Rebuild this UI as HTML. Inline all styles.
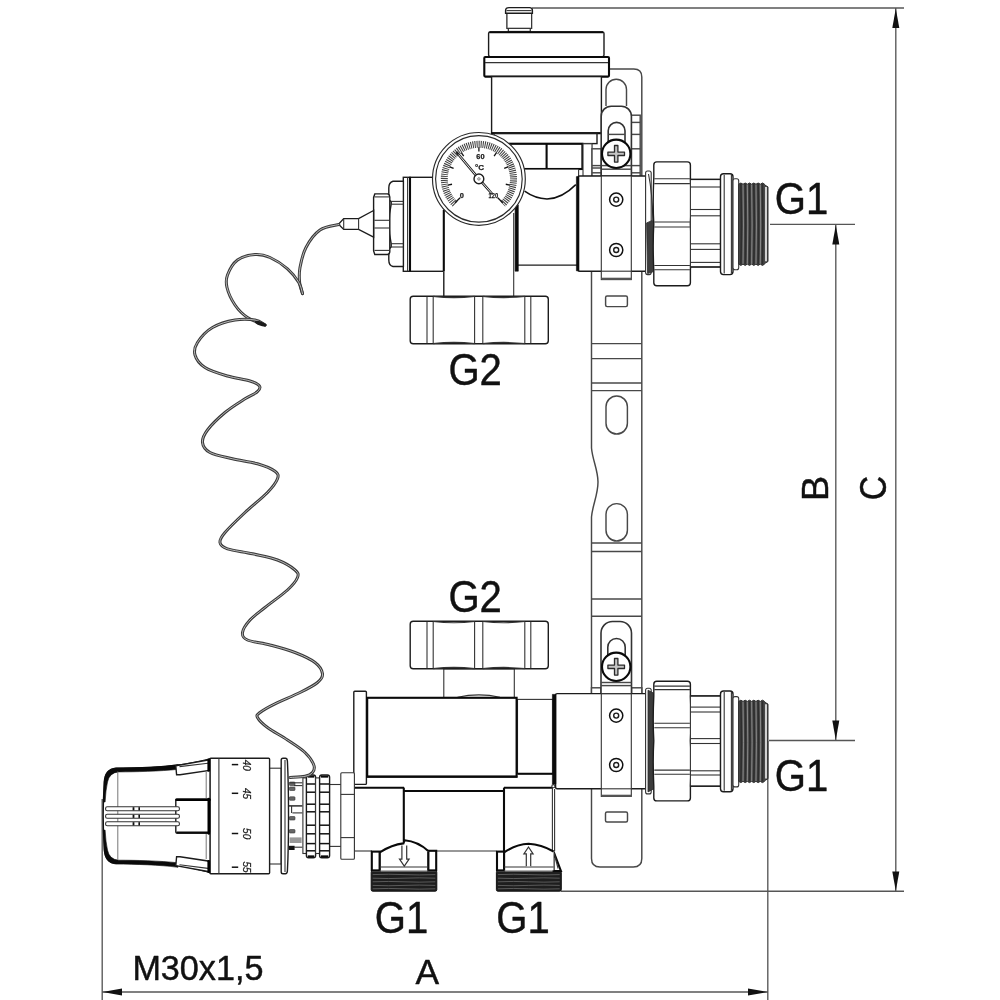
<!DOCTYPE html>
<html lang="en">
<head>
<meta charset="utf-8">
<title>Mixing unit dimensional drawing</title>
<style>
html,body{margin:0;padding:0;background:#fff;}
body{width:1000px;height:1000px;overflow:hidden;}
svg{display:block;}
.t{fill:none;stroke:#333;stroke-width:1.1;}
.r{fill:none;stroke:#484848;stroke-width:1.45;}
.c{fill:none;stroke:#333;stroke-width:1.6;}
.gk{fill:none;stroke:#555;stroke-width:2.2;}
.kn{fill:#fff;stroke:#1a1a1a;stroke-width:1.2;}
.blk{fill:#0a0a0a;stroke:#0a0a0a;stroke-width:0.6;stroke-linejoin:round;}
.m{fill:none;stroke:#1c1c1c;stroke-width:1.4;}
.k{fill:none;stroke:#0a0a0a;stroke-width:2.1;}
.kk{fill:none;stroke:#000;stroke-width:2.6;stroke-linecap:round;}
.g{fill:none;stroke:#777;stroke-width:1;}
.d{fill:none;stroke:#565656;stroke-width:1.35;}
.ah{fill:#111;stroke:none;}
.thr{fill:#3c3c3c;stroke:#2a2a2a;stroke-width:0.8;}
.thr2{fill:#777;stroke:none;}
.thrf{fill:#474747;stroke:#2e2e2e;stroke-width:1;}
.thl{fill:none;stroke:#909090;stroke-width:0.9;}
.thl2{fill:none;stroke:#fff;stroke-width:1.5;}
.thrb{fill:#1e1e1e;stroke:#111;stroke-width:1;}
.thlb{fill:none;stroke:#6a6a6a;stroke-width:0.8;}
.ring{fill:none;stroke:#404040;stroke-width:7;stroke-dasharray:1.05 0.95;}
.gtw{paint-order:stroke;stroke:#fff;stroke-width:1.2;}
.gr{fill:none;stroke:#2a2a2a;stroke-width:1.15;}
.k2{fill:none;stroke:#111;stroke-width:1.5;}
.thd{fill:none;stroke:#2e2e2e;stroke-width:1.6;}
.tickb{stroke:#111;stroke-width:1.3;}
.needle{fill:none;stroke:#222;stroke-width:2.6;}
.needlei{fill:none;stroke:#fff;stroke-width:0.9;}
.pin{fill:#666;stroke:#333;stroke-width:0.6;}
.pinb{fill:#111;stroke:none;}
.ping{fill:#999;stroke:none;}
.wire{fill:none;stroke:#3a3a3a;stroke-width:3;stroke-linecap:round;}
.wirei{fill:none;stroke:#e4e4e4;stroke-width:0.75;stroke-linecap:round;}
text{font-family:"Liberation Sans",sans-serif;fill:#111;}
.lbl{stroke:#111;stroke-width:0.45;stroke-linejoin:round;}
.gt{font-weight:bold;fill:#1a1a1a;stroke:#1a1a1a;stroke-width:0.25;}
.w{fill:#fff;}
.dt{fill:#1a1a1a;stroke:#1a1a1a;stroke-width:0.25;font-style:italic;}
</style>
</head>
<body>
<svg width="1000" height="1000" viewBox="0 0 1000 1000" style="filter:grayscale(1)">
<rect x="0" y="0" width="1000" height="1000" fill="#fff"/>
<g class="dim">
<line class="d" x1="532.00" y1="8.00" x2="904.00" y2="8.00" />
<line class="d" x1="895.80" y1="8.00" x2="895.80" y2="891.20" />
<line class="d" x1="561.00" y1="891.20" x2="904.00" y2="891.20" />
<line class="d" x1="770.00" y1="224.30" x2="855.00" y2="224.30" />
<line class="d" x1="769.00" y1="740.50" x2="855.00" y2="740.50" />
<line class="d" x1="835.80" y1="225.00" x2="835.80" y2="740.00" />
<line class="d" x1="767.80" y1="741.00" x2="767.80" y2="1000.00" />
<line class="d" x1="102.20" y1="799.00" x2="102.20" y2="1000.00" />
<line class="d" x1="102.00" y1="992.00" x2="768.00" y2="992.00" />
<polygon class="ah" points="895.8,8.5 899.3,28.0 892.3,28.0"/>
<polygon class="ah" points="895.8,891.0 892.3,871.5 899.3,871.5"/>
<polygon class="ah" points="835.8,225.0 839.3,244.5 832.3,244.5"/>
<polygon class="ah" points="835.8,740.0 832.3,720.5 839.3,720.5"/>
<polygon class="ah" points="102.5,992.0 122.0,988.5 122.0,995.5"/>
<polygon class="ah" points="767.5,992.0 748.0,995.5 748.0,988.5"/>
</g>
<path class="r w" d="M591.5,69 H633.8 Q641.8,69 641.8,77 V858.4 Q641.8,866.9 633.3,866.9 H600.0 Q591.5,866.9 591.5,858.4 V517 C592.5,505 598.0,495 598.0,482 C598.0,470 592.5,460 591.5,448 Z" />
<path class="r" d="M606,106 V89.5 A10,10 0 0 1 626.5,89.5 V106" />
<rect class="r" x="605.60" y="296.00" width="21.80" height="10.60" rx="1.5" />
<line class="r" x1="591.50" y1="343.60" x2="641.80" y2="343.60" />
<line class="r" x1="591.50" y1="358.60" x2="641.80" y2="358.60" />
<line class="r" x1="591.50" y1="383.00" x2="641.80" y2="383.00" />
<line class="r" x1="591.50" y1="390.60" x2="641.80" y2="390.60" />
<line class="r" x1="591.50" y1="543.00" x2="641.80" y2="543.00" />
<line class="r" x1="591.50" y1="551.40" x2="641.80" y2="551.40" />
<line class="r" x1="591.50" y1="599.00" x2="641.80" y2="599.00" />
<line class="r" x1="591.50" y1="616.30" x2="641.80" y2="616.30" />
<rect class="r w" x="606.00" y="396.00" width="21.40" height="38.00" rx="10.7" />
<rect class="r w" x="606.00" y="503.60" width="21.40" height="37.40" rx="10.7" />
<rect class="r" x="605.50" y="812.00" width="22.00" height="10.00" rx="1.5" />
<path class="t w" d="M508.4,31.4 V28.4 H507 V13 M531.6,13 V28.4 H530.2 V31.4" />
<rect class="t w" x="507.00" y="12.00" width="24.60" height="16.40" />
<rect class="t w" x="508.40" y="28.40" width="21.80" height="3.00" />
<path class="m w" d="M505.6,13.2 V10.5 Q505.6,7.6 509,7.6 H529.6 Q532.4,7.6 532.4,10.5 V13.2 Z" />
<line class="t" x1="506.50" y1="10.60" x2="531.50" y2="10.60" />
<rect class="m w" x="488.60" y="32.00" width="115.40" height="24.60" rx="1.5" />
<line class="k" x1="489.50" y1="32.20" x2="603.00" y2="32.20" />
<rect class="k w" x="484.30" y="57.00" width="124.70" height="19.60" rx="1" />
<line class="t" x1="485.00" y1="62.60" x2="608.00" y2="62.60" />
<rect class="m w" x="491.60" y="76.60" width="109.80" height="56.40" />
<line class="k" x1="491.00" y1="133.30" x2="601.60" y2="133.30" />
<rect class="m w" x="494.00" y="133.60" width="103.00" height="10.00" />
<rect class="k w" x="510.00" y="143.80" width="72.40" height="25.20" />
<line class="k" x1="546.60" y1="143.80" x2="546.60" y2="169.00" />
<rect class="w" x="516.00" y="169.60" width="63.00" height="95.40" style="stroke:none"/>
<line class="m" x1="518.00" y1="265.10" x2="577.00" y2="265.10" />
<line class="t" x1="578.60" y1="169.00" x2="578.60" y2="177.00" />
<path class="k2" d="M524.6,191.2 Q535,198.6 547,199 Q562,198.6 575.8,184.6" />
<rect class="m w" x="410.00" y="177.30" width="34.00" height="94.00" />
<rect class="m w" x="403.30" y="177.30" width="6.70" height="94.00" />
<line class="t" x1="407.60" y1="177.30" x2="407.60" y2="271.30" />
<line class="k" x1="410.00" y1="177.30" x2="410.00" y2="271.30" />
<path class="m w" d="M403.4,181.3 H393 Q388.8,182.4 388.8,188 V197 Q389,200.6 391.2,201.6 V204.2 Q389,214 389,224 Q389,234 391.2,243.6 V246.8 Q388.8,248 388.8,252 V260 Q388.8,265.6 393,266.5 H403.4 Z" />
<line class="t" x1="391.20" y1="201.40" x2="403.30" y2="201.40" />
<line class="t" x1="391.20" y1="204.20" x2="403.30" y2="204.20" />
<line class="t" x1="391.20" y1="243.70" x2="403.30" y2="243.70" />
<line class="t" x1="391.20" y1="247.00" x2="403.30" y2="247.00" />
<path class="m w" d="M374.8,193.9 H387.6 Q389.8,194.6 389.8,197 V251.4 Q389.8,253.9 387.6,254.5 H374.8 L373.6,251 V197.4 Z" />
<line class="t" x1="374.40" y1="196.90" x2="389.40" y2="196.90" />
<line class="t" x1="374.40" y1="220.30" x2="389.40" y2="220.30" />
<line class="t" x1="374.40" y1="228.00" x2="389.40" y2="228.00" />
<line class="t" x1="374.40" y1="250.40" x2="389.40" y2="250.40" />
<path class="m w" d="M373.6,210.5 L358.6,218.6 H343.7 L338.5,224.2 L343.7,229.4 H358.6 L373.6,237.2 Z" />
<line class="t" x1="358.60" y1="218.60" x2="358.60" y2="229.40" />
<line class="t" x1="343.70" y1="218.60" x2="343.70" y2="229.40" />
<rect class="t w" x="443.60" y="200.00" width="71.80" height="96.00" style="stroke:none"/>
<line class="k" x1="443.80" y1="210.00" x2="443.80" y2="271.40" />
<line class="m" x1="443.80" y1="271.40" x2="443.80" y2="296.00" />
<line class="t" x1="513.70" y1="213.00" x2="513.70" y2="296.00" />
<rect class="blk" x="515.10" y="205.00" width="3.20" height="66.20" />
<rect class="m w" x="410.20" y="296.20" width="138.10" height="47.60" rx="3" />
<line class="t" x1="427.00" y1="296.70" x2="427.00" y2="343.30" />
<line class="t" x1="433.20" y1="296.70" x2="433.20" y2="343.30" />
<line class="t" x1="474.60" y1="296.70" x2="474.60" y2="343.30" />
<line class="t" x1="482.80" y1="296.70" x2="482.80" y2="343.30" />
<line class="t" x1="524.80" y1="296.70" x2="524.80" y2="343.30" />
<line class="t" x1="530.80" y1="296.70" x2="530.80" y2="343.30" />
<path class="t" d="M433.2,296.4 Q453.9,298.8 474.6,296.4" />
<path class="t" d="M433.2,343.6 Q453.9,341.2 474.6,343.6" />
<path class="t" d="M482.8,296.4 Q503.79999999999995,298.8 524.8,296.4" />
<path class="t" d="M482.8,343.6 Q503.79999999999995,341.2 524.8,343.6" />
<rect class="r w" x="631.30" y="115.20" width="8.90" height="61.20" />
<line class="r" x1="631.30" y1="122.40" x2="640.20" y2="122.40" />
<line class="r" x1="631.30" y1="134.40" x2="640.20" y2="134.40" />
<line class="r" x1="631.30" y1="148.80" x2="640.20" y2="148.80" />
<line class="r" x1="631.30" y1="165.60" x2="640.20" y2="165.60" />
<line class="r" x1="631.30" y1="172.80" x2="640.20" y2="172.80" />
<rect class="t w" x="583.00" y="143.80" width="9.00" height="32.60" />
<rect class="r w" x="592.00" y="148.80" width="9.30" height="27.60" />
<line class="r" x1="592.00" y1="165.60" x2="601.30" y2="165.60" />
<line class="r" x1="592.00" y1="168.00" x2="601.30" y2="168.00" />
<line class="r" x1="592.00" y1="172.80" x2="601.30" y2="172.80" />
<path class="c w" d="M601.2,176.4 V116.2 A10,10 0 0 1 611.2,106.2 H621.4 A10,10 0 0 1 631.4,116.2 V176.4 Z" />
<path class="c" d="M608.2,150 V130.8 A8.4,8.4 0 0 1 625,130.8 V150" />
<line class="r" x1="608.20" y1="134.40" x2="625.00" y2="134.40" />
<line class="r" x1="601.50" y1="165.60" x2="631.40" y2="165.60" />
<line class="r" x1="601.50" y1="169.20" x2="631.40" y2="169.20" />
<rect class="m w" x="578.00" y="176.00" width="68.20" height="95.20" rx="1.5" />
<rect class="blk" x="576.40" y="176.60" width="2.60" height="94.20" />
<rect class="t w" x="601.30" y="176.00" width="30.00" height="103.60" />
<line class="gk" x1="601.60" y1="278.80" x2="631.00" y2="278.80" />
<line class="t" x1="601.30" y1="271.20" x2="631.30" y2="271.20" />
<circle class="k2 w" cx="616.20" cy="199.60" r="6.60" />
<circle class="m" cx="616.20" cy="199.60" r="2.50" />
<circle class="k2 w" cx="616.20" cy="250.00" r="6.60" />
<circle class="m" cx="616.20" cy="250.00" r="2.50" />
<circle class="k w" cx="616.20" cy="153.80" r="14.20" />
<path d="M614.5,145.5 h3.4 v6.6 h6.6 v3.4 h-6.6 v6.6 h-3.4 v-6.6 h-6.6 v-3.4 h6.6 Z" style="fill:#c4c4c4;stroke:#2a2a2a;stroke-width:1.3;stroke-linejoin:round"/>
<rect class="t w" x="645.60" y="171.00" width="5.60" height="103.60" rx="2" />
<path class="thr" d="M646.6,222.9 L653.6,219.9 V271.6 L647.6,273.6 Z" />
<path class="t" d="M648.5,174.0 Q652.5,193.9 652.8,219.9" />
<path class="m w" d="M656.8,161.9 H687.4 Q690.4,161.9 690.4,164.9 V176.9 Q691.6,203.9 690.4,223.9 Q691.6,243.9 690.4,270.8 V282.8 Q690.4,285.8 687.4,285.8 H656.8 Q653.8,285.8 653.8,282.8 V270.8 Q652.5999999999999,243.9 653.8,223.9 Q652.5999999999999,203.9 653.8,176.9 V164.9 Q653.8,161.9 656.8,161.9 Z" />
<line class="t" x1="654.30" y1="178.70" x2="689.90" y2="178.70" />
<line class="t" x1="654.30" y1="183.60" x2="689.90" y2="183.60" />
<line class="t" x1="654.30" y1="222.00" x2="689.90" y2="222.00" />
<line class="t" x1="654.30" y1="227.00" x2="689.90" y2="227.00" />
<line class="t" x1="654.30" y1="265.50" x2="689.90" y2="265.50" />
<line class="t" x1="654.30" y1="269.70" x2="689.90" y2="269.70" />
<rect class="t w" x="690.40" y="179.40" width="30.10" height="87.60" />
<line class="t" x1="690.40" y1="187.00" x2="720.50" y2="187.00" />
<line class="t" x1="690.40" y1="209.50" x2="720.50" y2="209.50" />
<line class="t" x1="690.40" y1="215.80" x2="720.50" y2="215.80" />
<line class="t" x1="690.40" y1="243.80" x2="720.50" y2="243.80" />
<line class="t" x1="690.40" y1="249.40" x2="720.50" y2="249.40" />
<line class="t" x1="690.40" y1="262.40" x2="720.50" y2="262.40" />
<line class="m" x1="690.40" y1="179.40" x2="720.50" y2="179.40" />
<line class="m" x1="690.40" y1="267.00" x2="720.50" y2="267.00" />
<rect class="m w" x="720.50" y="173.80" width="12.50" height="100.80" rx="3" />
<line class="t" x1="724.20" y1="174.80" x2="724.20" y2="273.60" />
<line class="t" x1="731.40" y1="174.80" x2="731.40" y2="273.60" />
<rect class="t w" x="733.00" y="178.70" width="5.70" height="91.00" rx="2" />
<path class="thrf" d="M738.7,184.3 q2.16,-2.6 4.32,0 q2.16,-2.6 4.32,0 q2.16,-2.6 4.32,0 q2.16,-2.6 4.32,0 q2.16,-2.6 4.32,0 q2.16,-2.6 4.32,0 L764.6,184.9 L768,186.9 V261.5 L764.6,263.5 L764.60,264.1 q-2.16,2.6 -4.32,0 q-2.16,2.6 -4.32,0 q-2.16,2.6 -4.32,0 q-2.16,2.6 -4.32,0 q-2.16,2.6 -4.32,0 q-2.16,2.6 -4.32,0 Z" />
<path class="thl" d="M743.02,184.5 q0.9,41.3 0,79.4" />
<path class="thl" d="M747.33,184.5 q0.9,41.3 0,79.4" />
<path class="thl" d="M751.65,184.5 q0.9,41.3 0,79.4" />
<path class="thl" d="M755.97,184.5 q0.9,41.3 0,79.4" />
<path class="thl" d="M760.28,184.5 q0.9,41.3 0,79.4" />
<path class="thd" d="M740.86,184.1 q0.9,41.3 0,80.2" />
<path class="thd" d="M745.18,184.1 q0.9,41.3 0,80.2" />
<path class="thd" d="M749.49,184.1 q0.9,41.3 0,80.2" />
<path class="thd" d="M753.81,184.1 q0.9,41.3 0,80.2" />
<path class="thd" d="M758.12,184.1 q0.9,41.3 0,80.2" />
<path class="thd" d="M762.44,184.1 q0.9,41.3 0,80.2" />
<path class="thl2" d="M766,187.1 V261.3" />
<circle class="gr w" cx="478.90" cy="178.90" r="46.40" />
<circle class="gr" cx="478.90" cy="178.90" r="43.30" />
<path class="ring" d="M455.08,204.00 A34.6,34.6 0 1 1 502.72,204.00"/>
<line class="tickb" x1="455.00" y1="202.80" x2="460.09" y2="197.71"/>
<line class="tickb" x1="447.91" y1="185.06" x2="452.03" y2="184.25"/>
<line class="tickb" x1="449.71" y1="166.81" x2="453.59" y2="168.41"/>
<line class="tickb" x1="461.34" y1="152.63" x2="463.68" y2="156.12"/>
<line class="tickb" x1="478.90" y1="147.30" x2="478.90" y2="151.50"/>
<line class="tickb" x1="496.46" y1="152.63" x2="494.12" y2="156.12"/>
<line class="tickb" x1="508.09" y1="166.81" x2="504.21" y2="168.41"/>
<line class="tickb" x1="509.89" y1="185.06" x2="505.77" y2="184.25"/>
<line class="tickb" x1="502.80" y1="202.80" x2="497.71" y2="197.71"/>
<path class="needle" d="M456.4,152 L478.9,178.9 L492.2,194" />
<path class="needlei" d="M458.6,154.6 L478.9,178.9 L491.6,193.2" />
<circle class="m w" cx="478.90" cy="178.90" r="4.90" />
<circle class="g" cx="478.90" cy="178.90" r="1.20" />
<text class="gt" x="480.40" y="158.60" font-size="7.4" text-anchor="middle">60</text>
<text class="gt" x="479.60" y="169.80" font-size="8" text-anchor="middle">°C</text>
<text class="gt" x="461.90" y="198.00" font-size="7.4" text-anchor="middle">0</text>
<text class="gt gtw" x="493.40" y="198.40" font-size="7.4" text-anchor="middle" textLength="9.6" lengthAdjust="spacingAndGlyphs">120</text>
<rect class="t w" x="443.80" y="668.80" width="70.50" height="28.70" />
<path class="t" d="M457.5,697.2 Q479,692.6 500,697.2" />
<rect class="m w" x="410.20" y="621.30" width="138.10" height="47.50" rx="3" />
<line class="t" x1="427.00" y1="621.80" x2="427.00" y2="668.30" />
<line class="t" x1="433.20" y1="621.80" x2="433.20" y2="668.30" />
<line class="t" x1="474.60" y1="621.80" x2="474.60" y2="668.30" />
<line class="t" x1="482.80" y1="621.80" x2="482.80" y2="668.30" />
<line class="t" x1="524.80" y1="621.80" x2="524.80" y2="668.30" />
<line class="t" x1="530.80" y1="621.80" x2="530.80" y2="668.30" />
<path class="t" d="M433.2,621.5 Q453.9,623.9 474.6,621.5" />
<path class="t" d="M433.2,668.5999999999999 Q453.9,666.1999999999999 474.6,668.5999999999999" />
<path class="t" d="M482.8,621.5 Q503.79999999999995,623.9 524.8,621.5" />
<path class="t" d="M482.8,668.5999999999999 Q503.79999999999995,666.1999999999999 524.8,668.5999999999999" />
<rect class="t w" x="517.50" y="699.40" width="35.50" height="74.40" />
<line class="k" x1="517.50" y1="773.80" x2="553.00" y2="773.80" />
<rect class="m w" x="353.80" y="691.30" width="12.60" height="93.10" rx="1" />
<rect class="w" x="354.40" y="787.60" width="198.20" height="63.40" style="stroke:none"/>
<line class="t" x1="354.40" y1="787.60" x2="354.40" y2="851.00" />
<line class="t" x1="354.40" y1="851.00" x2="372.00" y2="851.00" />
<line class="t" x1="436.60" y1="851.00" x2="496.40" y2="851.00" />
<rect class="k w" x="367.20" y="697.80" width="149.40" height="78.80" />
<line class="k" x1="366.40" y1="776.80" x2="517.40" y2="776.80" />
<line class="k" x1="353.80" y1="787.80" x2="404.00" y2="787.80" />
<line class="k" x1="404.00" y1="791.00" x2="504.00" y2="791.00" />
<line class="k" x1="504.00" y1="787.80" x2="553.00" y2="787.80" />
<line class="k" x1="403.80" y1="787.60" x2="403.80" y2="841.60" />
<line class="k" x1="504.00" y1="787.60" x2="504.00" y2="851.00" />
<line class="t" x1="552.40" y1="786.00" x2="552.40" y2="851.00" />
<line class="t" x1="554.60" y1="789.00" x2="554.60" y2="851.00" />
<circle class="t w" cx="553.40" cy="786.20" r="1.60" />
<rect class="t w" x="340.80" y="772.80" width="13.60" height="86.40" rx="1" />
<line class="t" x1="340.80" y1="794.40" x2="354.40" y2="794.40" />
<line class="t" x1="340.80" y1="837.60" x2="354.40" y2="837.60" />
<line class="t" x1="329.60" y1="784.50" x2="340.80" y2="784.50" />
<line class="t" x1="329.60" y1="846.40" x2="340.80" y2="846.40" />
<rect class="thrb" x="371.20" y="871.00" width="65.60" height="20.20" rx="1.5" />
<path class="thlb" d="M372.7,874.6 q16.4,-0.7 31.3,0 t31.3,0" />
<path class="thlb" d="M372.7,878.2 q16.4,0.7 31.3,0 t31.3,0" />
<path class="thlb" d="M372.7,881.8 q16.4,-0.7 31.3,0 t31.3,0" />
<path class="thlb" d="M372.7,885.4 q16.4,0.7 31.3,0 t31.3,0" />
<path class="thlb" d="M372.7,888.8 q16.4,-0.7 31.3,0 t31.3,0" />
<rect class="ping" x="372.20" y="869.40" width="63.60" height="2.20" />
<rect class="k w" x="371.80" y="851.60" width="8.00" height="18.80" />
<rect class="k w" x="428.20" y="850.80" width="8.00" height="19.60" />
<path class="w" d="M379.8,870.2 V852.4 Q392,844.6 403.4,843.4 L404.6,840.2 Q418,841.4 428.2,851 V870.2 Z" />
<path class="k" d="M379.8,852.4 Q392,844.6 403.4,843.4 L404.6,840.2 Q418,841.4 428.2,851" />
<line class="k" x1="379.80" y1="852.00" x2="379.80" y2="870.20" />
<line class="k" x1="428.20" y1="851.40" x2="428.20" y2="870.20" />
<line class="t" x1="379.80" y1="867.00" x2="428.20" y2="867.00" />
<rect class="thrb" x="496.40" y="871.00" width="64.90" height="20.20" rx="1.5" />
<path class="thlb" d="M497.9,874.6 q16.2,-0.7 30.9,0 t30.9,0" />
<path class="thlb" d="M497.9,878.2 q16.2,0.7 30.9,0 t30.9,0" />
<path class="thlb" d="M497.9,881.8 q16.2,-0.7 30.9,0 t30.9,0" />
<path class="thlb" d="M497.9,885.4 q16.2,0.7 30.9,0 t30.9,0" />
<path class="thlb" d="M497.9,888.8 q16.2,-0.7 30.9,0 t30.9,0" />
<rect class="ping" x="497.40" y="869.40" width="62.90" height="2.20" />
<rect class="k w" x="497.00" y="851.60" width="7.10" height="18.80" />
<path class="k w" d="M553.6,851.5 L560.9,871 H553.6 Z" />
<path class="t" d="M553.6,851.5 L558.1,868.5" />
<path class="w" d="M504.1,870.2 V852.4 Q516,844.4 528.6,843.8 Q541,844.4 553.6,851.5 V870.2 Z" />
<path class="k" d="M504.1,852.4 Q516,844.4 528.6,843.8 Q541,844.4 553.6,851.5" />
<line class="k" x1="504.10" y1="852.00" x2="504.10" y2="870.20" />
<line class="t" x1="504.10" y1="867.00" x2="553.60" y2="867.00" />
<path class="t" d="M401.90000000000003,845.5 V859.2 H399.5 L404.3,866.2 L409.1,859.2 H406.7 V845.5" style="fill:#fff;stroke:#333;stroke-width:1.2"/>
<path class="t" d="M526.3,866.3 V853.8 H523.9 L528.5,847 L533.1,853.8 H530.7 V866.3" style="fill:#fff;stroke:#333;stroke-width:1.2"/>
<rect class="r w" x="591.50" y="687.80" width="9.50" height="6.20" />
<rect class="r w" x="631.50" y="687.80" width="10.30" height="6.20" />
<path class="c w" d="M601,694 V633 A11.5,11.5 0 0 1 612.5,621.5 H620 A11.5,11.5 0 0 1 631.5,633 V694 Z" />
<path class="c" d="M607.8,662 V647.2 A8.7,8.7 0 0 1 625.2,647.2 V662" />
<line class="r" x1="601.00" y1="682.50" x2="631.50" y2="682.50" />
<line class="r" x1="601.00" y1="685.60" x2="631.50" y2="685.60" />
<rect class="m w" x="555.60" y="693.60" width="90.60" height="95.20" rx="1.5" />
<rect class="blk" x="552.40" y="694.40" width="3.40" height="89.60" />
<rect class="t w" x="601.30" y="693.80" width="30.00" height="102.60" />
<line class="gk" x1="601.60" y1="795.80" x2="631.00" y2="795.80" />
<line class="t" x1="601.30" y1="788.80" x2="631.30" y2="788.80" />
<circle class="k2 w" cx="616.20" cy="715.60" r="6.60" />
<circle class="m" cx="616.20" cy="715.60" r="2.50" />
<circle class="k2 w" cx="616.20" cy="765.00" r="6.60" />
<circle class="m" cx="616.20" cy="765.00" r="2.50" />
<circle class="k w" cx="616.20" cy="666.80" r="14.20" />
<path d="M614.5,658.5 h3.4 v6.6 h6.6 v3.4 h-6.6 v6.6 h-3.4 v-6.6 h-6.6 v-3.4 h6.6 Z" style="fill:#c4c4c4;stroke:#2a2a2a;stroke-width:1.3;stroke-linejoin:round"/>
<rect class="t w" x="645.60" y="688.20" width="5.60" height="105.70" rx="2" />
<path class="thr" d="M648,690.2 L653.8,693.2 V788.9 L648,791.9 Z" />
<path class="m w" d="M656.8,681.2 H687.4 Q690.4,681.2 690.4,684.2 V696.2 Q691.6,720.7 690.4,740.7 Q691.6,760.7 690.4,785.9000000000001 V797.9000000000001 Q690.4,800.9000000000001 687.4,800.9000000000001 H656.8 Q653.8,800.9000000000001 653.8,797.9000000000001 V785.9000000000001 Q652.5999999999999,760.7 653.8,740.7 Q652.5999999999999,720.7 653.8,696.2 V684.2 Q653.8,681.2 656.8,681.2 Z" />
<line class="t" x1="654.30" y1="686.10" x2="689.90" y2="686.10" />
<line class="t" x1="654.30" y1="689.60" x2="689.90" y2="689.60" />
<line class="t" x1="654.30" y1="723.20" x2="689.90" y2="723.20" />
<line class="t" x1="654.30" y1="727.70" x2="689.90" y2="727.70" />
<line class="t" x1="654.30" y1="770.10" x2="689.90" y2="770.10" />
<line class="t" x1="654.30" y1="774.30" x2="689.90" y2="774.30" />
<rect class="t w" x="690.40" y="695.90" width="30.10" height="90.30" />
<line class="t" x1="690.40" y1="707.10" x2="720.50" y2="707.10" />
<line class="t" x1="690.40" y1="712.00" x2="720.50" y2="712.00" />
<line class="t" x1="690.40" y1="738.60" x2="720.50" y2="738.60" />
<line class="t" x1="690.40" y1="743.50" x2="720.50" y2="743.50" />
<line class="t" x1="690.40" y1="770.80" x2="720.50" y2="770.80" />
<line class="t" x1="690.40" y1="775.00" x2="720.50" y2="775.00" />
<line class="m" x1="690.40" y1="695.90" x2="720.50" y2="695.90" />
<line class="m" x1="690.40" y1="786.20" x2="720.50" y2="786.20" />
<rect class="m w" x="720.50" y="691.00" width="12.50" height="100.80" rx="3" />
<line class="t" x1="724.20" y1="692.00" x2="724.20" y2="790.80" />
<line class="t" x1="731.40" y1="692.00" x2="731.40" y2="790.80" />
<rect class="t w" x="733.00" y="696.60" width="5.70" height="90.30" rx="2" />
<path class="thrf" d="M738.7,701.5 q2.16,-2.6 4.32,0 q2.16,-2.6 4.32,0 q2.16,-2.6 4.32,0 q2.16,-2.6 4.32,0 q2.16,-2.6 4.32,0 q2.16,-2.6 4.32,0 L764.6,702.1 L768,704.1 V778.7 L764.6,780.7 L764.60,781.3000000000001 q-2.16,2.6 -4.32,0 q-2.16,2.6 -4.32,0 q-2.16,2.6 -4.32,0 q-2.16,2.6 -4.32,0 q-2.16,2.6 -4.32,0 q-2.16,2.6 -4.32,0 Z" />
<path class="thl" d="M743.02,701.7 q0.9,41.3 0,79.4" />
<path class="thl" d="M747.33,701.7 q0.9,41.3 0,79.4" />
<path class="thl" d="M751.65,701.7 q0.9,41.3 0,79.4" />
<path class="thl" d="M755.97,701.7 q0.9,41.3 0,79.4" />
<path class="thl" d="M760.28,701.7 q0.9,41.3 0,79.4" />
<path class="thd" d="M740.86,701.3000000000001 q0.9,41.3 0,80.2" />
<path class="thd" d="M745.18,701.3000000000001 q0.9,41.3 0,80.2" />
<path class="thd" d="M749.49,701.3000000000001 q0.9,41.3 0,80.2" />
<path class="thd" d="M753.81,701.3000000000001 q0.9,41.3 0,80.2" />
<path class="thd" d="M758.12,701.3000000000001 q0.9,41.3 0,80.2" />
<path class="thd" d="M762.44,701.3000000000001 q0.9,41.3 0,80.2" />
<path class="thl2" d="M766,704.3000000000001 V778.5" />
<rect class="t w" x="288.80" y="777.50" width="13.60" height="75.00" style="stroke:none"/>
<rect class="pin" x="289.40" y="782.00" width="5.60" height="3.50" rx="0.8" />
<rect class="pin" x="289.40" y="787.00" width="5.60" height="3.50" rx="0.8" />
<rect class="pin" x="289.40" y="796.80" width="5.60" height="3.50" rx="0.8" />
<rect class="pin" x="289.40" y="816.50" width="5.60" height="3.50" rx="0.8" />
<rect class="pin" x="289.40" y="829.50" width="5.60" height="3.50" rx="0.8" />
<rect class="pinb" x="289.00" y="845.80" width="5.60" height="4.20" />
<rect class="ping" x="289.60" y="837.40" width="12.00" height="5.60" />
<line class="t" x1="289.60" y1="782.80" x2="302.40" y2="782.80" />
<line class="t" x1="294.00" y1="785.60" x2="302.40" y2="785.60" />
<line class="m" x1="288.60" y1="805.90" x2="302.40" y2="805.90" />
<line class="t" x1="292.40" y1="812.90" x2="302.40" y2="812.90" />
<line class="t" x1="294.00" y1="847.20" x2="302.40" y2="847.20" />
<line class="t" x1="291.60" y1="806.00" x2="291.60" y2="813.00" />
<rect class="t w" x="302.90" y="777.90" width="3.70" height="75.60" />
<rect class="m w" x="306.40" y="775.00" width="9.20" height="82.80" rx="2.2" />
<line class="k" x1="307.80" y1="776.60" x2="314.20" y2="776.60" />
<line class="k" x1="307.80" y1="856.40" x2="314.20" y2="856.40" />
<line class="k2" x1="306.80" y1="784.00" x2="315.20" y2="784.00" />
<line class="k2" x1="306.80" y1="792.20" x2="315.20" y2="792.20" />
<line class="k2" x1="306.80" y1="804.20" x2="315.20" y2="804.20" />
<line class="k2" x1="306.80" y1="811.80" x2="315.20" y2="811.80" />
<line class="k2" x1="306.80" y1="825.20" x2="315.20" y2="825.20" />
<line class="k2" x1="306.80" y1="833.80" x2="315.20" y2="833.80" />
<line class="k2" x1="306.80" y1="843.60" x2="315.20" y2="843.60" />
<line class="k2" x1="306.80" y1="850.80" x2="315.20" y2="850.80" />
<rect class="t w" x="315.60" y="777.90" width="4.00" height="75.60" />
<rect class="m w" x="319.60" y="775.00" width="10.00" height="82.80" rx="2.2" />
<line class="k" x1="321.00" y1="776.60" x2="328.20" y2="776.60" />
<line class="k" x1="321.00" y1="856.40" x2="328.20" y2="856.40" />
<line class="k2" x1="320.00" y1="784.00" x2="329.20" y2="784.00" />
<line class="k2" x1="320.00" y1="792.20" x2="329.20" y2="792.20" />
<line class="k2" x1="320.00" y1="804.20" x2="329.20" y2="804.20" />
<line class="k2" x1="320.00" y1="811.80" x2="329.20" y2="811.80" />
<line class="k2" x1="320.00" y1="825.20" x2="329.20" y2="825.20" />
<line class="k2" x1="320.00" y1="833.80" x2="329.20" y2="833.80" />
<line class="k2" x1="320.00" y1="843.60" x2="329.20" y2="843.60" />
<line class="k2" x1="320.00" y1="850.80" x2="329.20" y2="850.80" />
<rect class="t w" x="269.40" y="768.20" width="11.80" height="95.80" />
<path class="m w" d="M281.2,760 Q281.2,758.2 283,758.2 H285.4 Q287.2,758.2 287.4,761 C288.9,790 288.9,842 287.4,871 Q287.2,873.8 285.4,873.8 H283 Q281.2,873.8 281.2,872 Z" />
<line class="t" x1="285.00" y1="760.00" x2="285.00" y2="872.00" />
<rect class="m w" x="209.80" y="758.30" width="59.80" height="115.50" rx="1" />
<line class="t" x1="218.90" y1="758.30" x2="218.90" y2="873.80" />
<path class="w" d="M210,759 C196,762.5 185,764.5 178,765 C160,767.4 135,768.2 116,768.2 Q105,769 104.3,782 C103.1,800 103.1,830 104.3,849 Q105,863 116,863.4 C135,863.2 160,863.6 178,865 C185,866 196,869 210,872.4 Z" style="stroke:#111;stroke-width:1.3"/>
<path class="blk" d="M178,764.8 C160,767.2 135,768.0 116,768.0 Q105.1,768.8 104.1,782.0 L103.4,802.0 L105.1,802.0 Q105.7,790.0 107.5,782.0 Q109.3,772.6 118.6,771.9 C135,771.9 160,771.3 178,769.3 Z" />
<path class="blk" d="M178,867.3 C160,864.9 135,864.1 116,864.1 Q105.1,863.3 104.1,850.1 L103.4,830.1 L105.1,830.1 Q105.7,842.1 107.5,850.1 Q109.3,859.5 118.6,860.2 C135,860.2 160,860.8 178,862.8 Z" />
<line class="g" x1="117.80" y1="771.50" x2="117.80" y2="860.00" />
<line class="g" x1="206.20" y1="772.00" x2="206.20" y2="798.00" />
<line class="g" x1="206.20" y1="834.00" x2="206.20" y2="859.00" />
<path class="m w" d="M175.8,765.8 L209.4,759.8 V770.4 L180,774.8 H176.6 Z" />
<path class="t" d="M179.5,766.6 L208,763.2" />
<line class="kk" x1="208.70" y1="759.80" x2="208.70" y2="770.40" />
<path class="m w" d="M175.8,865.6 L209.4,871.8 V861.2 L180,856.8 H176.6 Z" />
<path class="t" d="M179.5,864.8 L208,868.4" />
<line class="kk" x1="208.70" y1="861.20" x2="208.70" y2="871.80" />
<rect class="m w" x="175.80" y="799.20" width="33.80" height="33.80" rx="1" />
<line class="kk" x1="176.50" y1="799.80" x2="209.60" y2="799.80" />
<line class="k" x1="176.50" y1="832.60" x2="209.60" y2="832.60" />
<line class="kk" x1="208.80" y1="799.00" x2="208.80" y2="833.40" />
<rect class="t w" x="105.60" y="806.80" width="73.80" height="4.00" rx="1.6" />
<rect class="pinb" x="132.60" y="807.20" width="1.80" height="3.20" />
<rect class="pinb" x="138.40" y="807.20" width="1.60" height="3.20" />
<rect class="t w" x="105.60" y="814.30" width="73.80" height="4.00" rx="1.6" />
<rect class="pinb" x="132.60" y="814.70" width="1.80" height="3.20" />
<rect class="pinb" x="138.40" y="814.70" width="1.60" height="3.20" />
<rect class="t w" x="105.60" y="821.80" width="73.80" height="4.00" rx="1.6" />
<rect class="pinb" x="132.60" y="822.20" width="1.80" height="3.20" />
<rect class="pinb" x="138.40" y="822.20" width="1.60" height="3.20" />
<line class="k2" x1="231.80" y1="764.60" x2="238.20" y2="764.60" />
<line class="k2" x1="231.80" y1="793.30" x2="238.20" y2="793.30" />
<line class="k2" x1="231.80" y1="833.50" x2="238.20" y2="833.50" />
<line class="k2" x1="231.80" y1="867.20" x2="238.20" y2="867.20" />
<text class="dt" transform="translate(242.6,765.3) rotate(90)" text-anchor="middle" font-size="11.2" textLength="11.2" lengthAdjust="spacingAndGlyphs">40</text>
<text class="dt" transform="translate(242.6,793.6) rotate(90)" text-anchor="middle" font-size="11.2" textLength="11.2" lengthAdjust="spacingAndGlyphs">45</text>
<text class="dt" transform="translate(242.6,833.7) rotate(90)" text-anchor="middle" font-size="11.2" textLength="11.2" lengthAdjust="spacingAndGlyphs">50</text>
<text class="dt" transform="translate(242.6,867.1) rotate(90)" text-anchor="middle" font-size="11.2" textLength="11.2" lengthAdjust="spacingAndGlyphs">55</text>
<path class="wire" d="M338.8,224.5 C335.7,225.4 325.5,226.2 320.0,230.0 C314.5,233.8 309.3,241.2 306.0,247.5 C302.7,253.8 301.1,261.7 300.0,267.5 C298.9,273.3 299.2,278.1 299.6,282.5 C300.0,286.9 302.0,291.8 302.5,293.6" />
<path class="wirei" d="M338.8,224.5 C335.7,225.4 325.5,226.2 320.0,230.0 C314.5,233.8 309.3,241.2 306.0,247.5 C302.7,253.8 301.1,261.7 300.0,267.5 C298.9,273.3 299.2,278.1 299.6,282.5 C300.0,286.9 302.0,291.8 302.5,293.6" />
<path class="wire" d="M302.5,293.6 C301.9,291.8 301.3,286.6 298.8,282.5 C296.3,278.4 292.3,273.0 287.5,268.8 C282.7,264.6 275.4,259.9 270.0,257.5 C264.6,255.1 260.4,254.1 255.0,254.5 C249.6,254.9 242.1,256.6 237.5,260.0 C232.9,263.4 229.2,270.4 227.5,275.0 C225.8,279.6 225.8,282.5 227.0,287.5 C228.2,292.5 231.6,300.0 235.0,305.0 C238.4,310.0 242.5,314.2 247.5,317.5 C252.5,320.8 262.1,323.8 265.0,325.0" />
<path class="wirei" d="M302.5,293.6 C301.9,291.8 301.3,286.6 298.8,282.5 C296.3,278.4 292.3,273.0 287.5,268.8 C282.7,264.6 275.4,259.9 270.0,257.5 C264.6,255.1 260.4,254.1 255.0,254.5 C249.6,254.9 242.1,256.6 237.5,260.0 C232.9,263.4 229.2,270.4 227.5,275.0 C225.8,279.6 225.8,282.5 227.0,287.5 C228.2,292.5 231.6,300.0 235.0,305.0 C238.4,310.0 242.5,314.2 247.5,317.5 C252.5,320.8 262.1,323.8 265.0,325.0" />
<path class="wire" d="M265,325 C263.3,324.2 260.0,320.8 255.0,320.0 C250.0,319.2 242.1,318.8 235.0,320.0 C227.9,321.2 218.8,323.8 212.5,327.5 C206.2,331.2 200.4,337.9 197.5,342.5 C194.6,347.1 193.8,350.8 195.0,355.0 C196.2,359.2 199.6,364.0 205.0,367.5 C210.4,371.0 220.0,373.8 227.5,376.0 C235.0,378.2 244.7,379.3 250.0,381.0 C255.3,382.7 258.3,384.2 259.5,386.0 C260.7,387.8 259.4,389.9 257.0,392.0 C254.6,394.1 250.3,395.4 245.0,398.8 C239.7,402.2 231.2,407.3 225.0,412.5 C218.8,417.7 211.2,425.0 207.5,430.0 C203.8,435.0 202.1,438.8 202.5,442.5 C202.9,446.2 205.0,449.8 210.0,452.5 C215.0,455.2 224.6,456.9 232.5,458.8 C240.4,460.7 250.4,461.7 257.5,463.8 C264.6,465.9 271.7,468.8 275.0,471.3 C278.3,473.8 278.8,475.3 277.5,478.8 C276.2,482.3 272.9,486.9 267.5,492.5 C262.1,498.1 252.1,505.8 245.0,512.5 C237.9,519.2 229.2,527.5 225.0,532.5 C220.8,537.5 219.6,539.8 220.0,542.5 C220.4,545.2 222.1,546.9 227.5,548.8 C232.9,550.7 244.2,551.9 252.5,553.8 C260.8,555.7 270.4,557.3 277.5,560.0 C284.6,562.7 291.7,567.1 295.0,570.0 C298.3,572.9 298.8,574.2 297.5,577.5 C296.2,580.8 292.9,585.0 287.5,590.0 C282.1,595.0 271.2,602.5 265.0,607.5 C258.8,612.5 253.8,615.8 250.0,620.0 C246.2,624.2 242.9,629.2 242.5,632.5 C242.1,635.8 242.9,637.9 247.5,640.0 C252.1,642.1 262.1,642.9 270.0,645.0 C277.9,647.1 287.5,649.6 295.0,652.5 C302.5,655.4 310.4,659.0 315.0,662.5 C319.6,666.0 322.1,670.5 322.5,673.8 C322.9,677.1 321.2,679.4 317.5,682.5 C313.8,685.6 307.1,689.0 300.0,692.5 C292.9,696.0 281.7,700.5 275.0,703.8 C268.3,707.1 262.9,710.2 260.0,712.5 C257.1,714.8 256.2,715.0 257.5,717.5 C258.8,720.0 262.5,723.8 267.5,727.5 C272.5,731.2 281.2,735.8 287.5,740.0 C293.8,744.2 300.6,748.3 305.0,752.5 C309.4,756.7 312.6,761.7 313.8,765.0 C315.1,768.3 314.0,770.6 312.5,772.5 C311.0,774.4 308.8,775.5 305.0,776.3 C301.2,777.1 292.5,777.3 290.0,777.5" />
<path class="wirei" d="M265,325 C263.3,324.2 260.0,320.8 255.0,320.0 C250.0,319.2 242.1,318.8 235.0,320.0 C227.9,321.2 218.8,323.8 212.5,327.5 C206.2,331.2 200.4,337.9 197.5,342.5 C194.6,347.1 193.8,350.8 195.0,355.0 C196.2,359.2 199.6,364.0 205.0,367.5 C210.4,371.0 220.0,373.8 227.5,376.0 C235.0,378.2 244.7,379.3 250.0,381.0 C255.3,382.7 258.3,384.2 259.5,386.0 C260.7,387.8 259.4,389.9 257.0,392.0 C254.6,394.1 250.3,395.4 245.0,398.8 C239.7,402.2 231.2,407.3 225.0,412.5 C218.8,417.7 211.2,425.0 207.5,430.0 C203.8,435.0 202.1,438.8 202.5,442.5 C202.9,446.2 205.0,449.8 210.0,452.5 C215.0,455.2 224.6,456.9 232.5,458.8 C240.4,460.7 250.4,461.7 257.5,463.8 C264.6,465.9 271.7,468.8 275.0,471.3 C278.3,473.8 278.8,475.3 277.5,478.8 C276.2,482.3 272.9,486.9 267.5,492.5 C262.1,498.1 252.1,505.8 245.0,512.5 C237.9,519.2 229.2,527.5 225.0,532.5 C220.8,537.5 219.6,539.8 220.0,542.5 C220.4,545.2 222.1,546.9 227.5,548.8 C232.9,550.7 244.2,551.9 252.5,553.8 C260.8,555.7 270.4,557.3 277.5,560.0 C284.6,562.7 291.7,567.1 295.0,570.0 C298.3,572.9 298.8,574.2 297.5,577.5 C296.2,580.8 292.9,585.0 287.5,590.0 C282.1,595.0 271.2,602.5 265.0,607.5 C258.8,612.5 253.8,615.8 250.0,620.0 C246.2,624.2 242.9,629.2 242.5,632.5 C242.1,635.8 242.9,637.9 247.5,640.0 C252.1,642.1 262.1,642.9 270.0,645.0 C277.9,647.1 287.5,649.6 295.0,652.5 C302.5,655.4 310.4,659.0 315.0,662.5 C319.6,666.0 322.1,670.5 322.5,673.8 C322.9,677.1 321.2,679.4 317.5,682.5 C313.8,685.6 307.1,689.0 300.0,692.5 C292.9,696.0 281.7,700.5 275.0,703.8 C268.3,707.1 262.9,710.2 260.0,712.5 C257.1,714.8 256.2,715.0 257.5,717.5 C258.8,720.0 262.5,723.8 267.5,727.5 C272.5,731.2 281.2,735.8 287.5,740.0 C293.8,744.2 300.6,748.3 305.0,752.5 C309.4,756.7 312.6,761.7 313.8,765.0 C315.1,768.3 314.0,770.6 312.5,772.5 C311.0,774.4 308.8,775.5 305.0,776.3 C301.2,777.1 292.5,777.3 290.0,777.5" />
<ellipse cx="260.6" cy="323.6" rx="6.2" ry="2.1" transform="rotate(21 260.6 323.6)" fill="#1a1a1a"/>
<text class="lbl" x="774.80" y="214.30" font-size="44.6" textLength="53.5" lengthAdjust="spacingAndGlyphs">G1</text>
<text class="lbl" x="774.80" y="791.10" font-size="44.6" textLength="53.5" lengthAdjust="spacingAndGlyphs">G1</text>
<text class="lbl" x="448.40" y="384.90" font-size="44.6" textLength="53.5" lengthAdjust="spacingAndGlyphs">G2</text>
<text class="lbl" x="448.40" y="611.90" font-size="44.6" textLength="53.5" lengthAdjust="spacingAndGlyphs">G2</text>
<text class="lbl" x="374.80" y="933.00" font-size="44.6" textLength="53.5" lengthAdjust="spacingAndGlyphs">G1</text>
<text class="lbl" x="496.20" y="933.00" font-size="44.6" textLength="53.5" lengthAdjust="spacingAndGlyphs">G1</text>
<text class="lbl" x="415.40" y="983.50" font-size="35.4" >A</text>
<text class="lbl" x="132.40" y="980.00" font-size="34.4" textLength="131" lengthAdjust="spacingAndGlyphs">M30x1,5</text>
<text class="lbl" transform="translate(827.5,501.2) rotate(-90)" font-size="36.4" textLength="25.5" lengthAdjust="spacingAndGlyphs">B</text>
<text class="lbl" transform="translate(885.6,500.3) rotate(-90)" font-size="37.6" textLength="24.4" lengthAdjust="spacingAndGlyphs">C</text>
</svg>
</body>
</html>
